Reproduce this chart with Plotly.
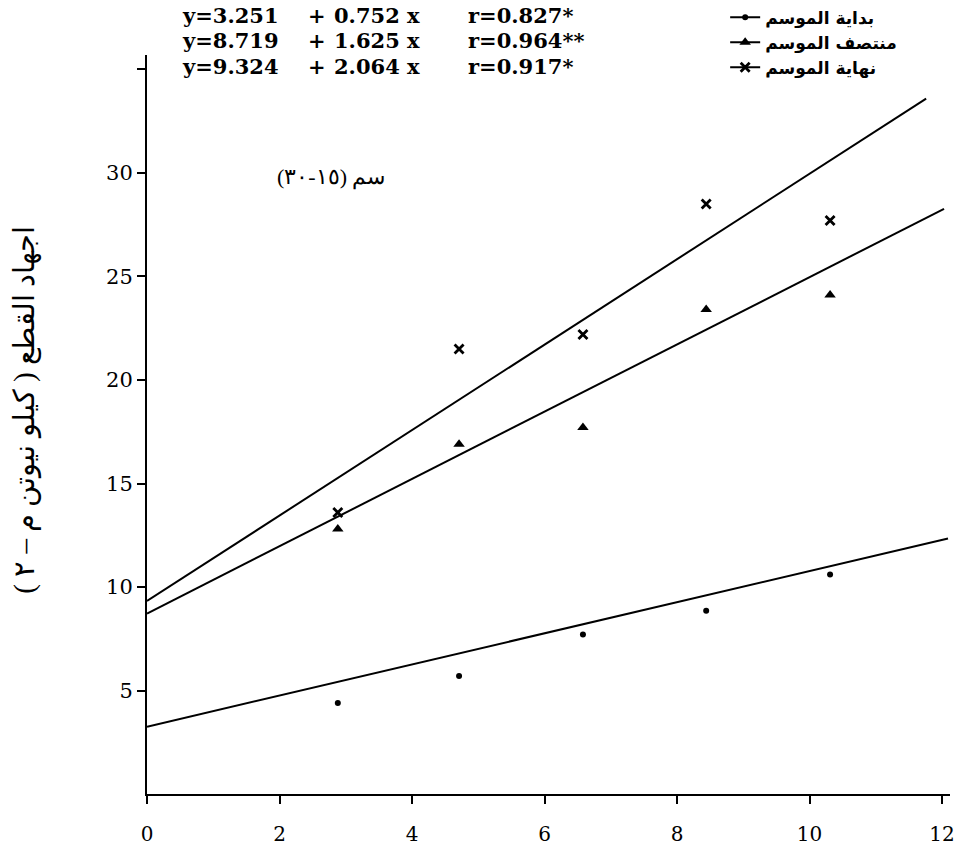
import plotly.graph_objects as go

# ---- data ----
x_vals = [2.88, 4.71, 6.58, 8.44, 10.31]
start_season = [4.4, 5.7, 7.7, 8.85, 10.6]     # بداية الموسم
mid_season = [12.8, 16.9, 17.7, 23.4, 24.1]     # منتصف الموسم
end_season = [13.6, 21.5, 22.2, 28.5, 27.7]     # نهاية الموسم

intercepts = [3.251, 8.719, 9.324]
slopes = [0.752, 1.625, 2.064]
line_x_end = [12.09, 12.03, 11.76]
r_texts = ["r=0.827*", "r=0.964**", "r=0.917*"]

series_names = ["بداية الموسم", "منتصف الموسم", "نهاية الموسم"]
x_ticks = [0, 2, 4, 6, 8, 10, 12]
x_tick_text = ["0", "2", "4", "6", "8", "10", "12"]
y_ticks = [5, 10, 15, 20, 25, 30, 35]
y_tick_text = ["5", "10", "15", "20", "25", "30", ""]

y_title = "\u200fاجهاد القطع ( كيلو نيوتن م – ٢ )\u200f"
sub_title = "\u200fسم (١٥-٣٠)\u200f"

serif = "Liberation Serif, DejaVu Serif, serif"
wide_serif = "DejaVu Serif, Liberation Serif, serif"
marker_styles = [
    dict(symbol="circle", size=6, color="black"),
    dict(symbol="triangle-up", size=10, color="black"),
    dict(symbol="x-thin", size=9, color="black", line=dict(width=2.8, color="black")),
]
series_vals = [start_season, mid_season, end_season]

fig = go.Figure()

# regression lines
for a, b, xe in zip(intercepts, slopes, line_x_end):
    fig.add_trace(go.Scatter(x=[0, xe], y=[a, a + b * xe], mode="lines",
                             line=dict(color="black", width=2), showlegend=False,
                             hoverinfo="skip"))

# observed points
for name, vals, ms in zip(series_names, series_vals, marker_styles):
    fig.add_trace(go.Scatter(x=x_vals, y=vals, mode="markers", marker=ms,
                             name=name, showlegend=False))

# legend-only entries (line + marker keys)
for name, ms in zip(series_names, marker_styles):
    fig.add_trace(go.Scatter(x=[None], y=[None], mode="lines+markers",
                             marker=ms, line=dict(color="black", width=2),
                             name="<b>" + name + "</b>", showlegend=True))

# equations
eq_y = [1.053, 1.019, 0.984]
eq_font = dict(family=wide_serif, size=21, color="black")
for a, b, r, yy in zip(intercepts, slopes, r_texts, eq_y):
    fig.add_annotation(x=0.041, y=yy, xref="paper", yref="paper", xanchor="left",
                       yanchor="middle", showarrow=False,
                       text="<b>y=%.3f</b>" % a, font=eq_font)
    fig.add_annotation(x=0.212, y=yy, xref="paper", yref="paper", xanchor="center",
                       yanchor="middle", showarrow=False, text="<b>+</b>", font=eq_font)
    fig.add_annotation(x=0.342, y=yy, xref="paper", yref="paper", xanchor="right",
                       yanchor="middle", showarrow=False,
                       text="<b>%.3f x</b>" % b, font=eq_font)
    fig.add_annotation(x=0.397, y=yy, xref="paper", yref="paper", xanchor="left",
                       yanchor="middle", showarrow=False, text="<b>" + r + "</b>",
                       font=eq_font)

fig.add_annotation(x=0.16, y=0.855, xref="paper", yref="paper", showarrow=False,
                   text=sub_title, font=dict(family=serif, size=22, color="black"))

fig.add_annotation(x=-0.1756, y=0.52, xref="paper", yref="paper", showarrow=False,
                   textangle=-90, text=y_title,
                   font=dict(family=serif, size=29, color="black"))

fig.update_layout(
    width=956, height=858,
    margin=dict(l=147, r=6, t=55, b=64, autoexpand=False),
    paper_bgcolor="white", plot_bgcolor="white",
    font=dict(family=serif, color="black"),
    hovermode=False,
    legend=dict(x=0.72, y=1.075, xanchor="left", yanchor="top",
                bgcolor="rgba(0,0,0,0)", font=dict(size=17, family="DejaVu Sans"),
                itemwidth=30),
    xaxis=dict(range=[0, 12.12], tickvals=x_ticks, ticktext=x_tick_text,
               showgrid=False, zeroline=False, showline=True, linecolor="black",
               linewidth=2, ticks="outside", ticklen=8, tickwidth=2,
               tickcolor="black", tickfont=dict(family=wide_serif, size=20),
               ticklabelstandoff=13, ticklabeloverflow="allow"),
    yaxis=dict(range=[0, 35.7], tickvals=y_ticks, ticktext=y_tick_text,
               showgrid=False, zeroline=False, showline=True, linecolor="black",
               linewidth=2, ticks="outside", ticklen=8, tickwidth=2,
               tickcolor="black", tickfont=dict(family=wide_serif, size=21)),
)

fig.write_html("out.html", config={"displayModeBar": False},
               post_script="document.body.style.margin='0';"
                           "document.body.style.overflow='hidden';")
